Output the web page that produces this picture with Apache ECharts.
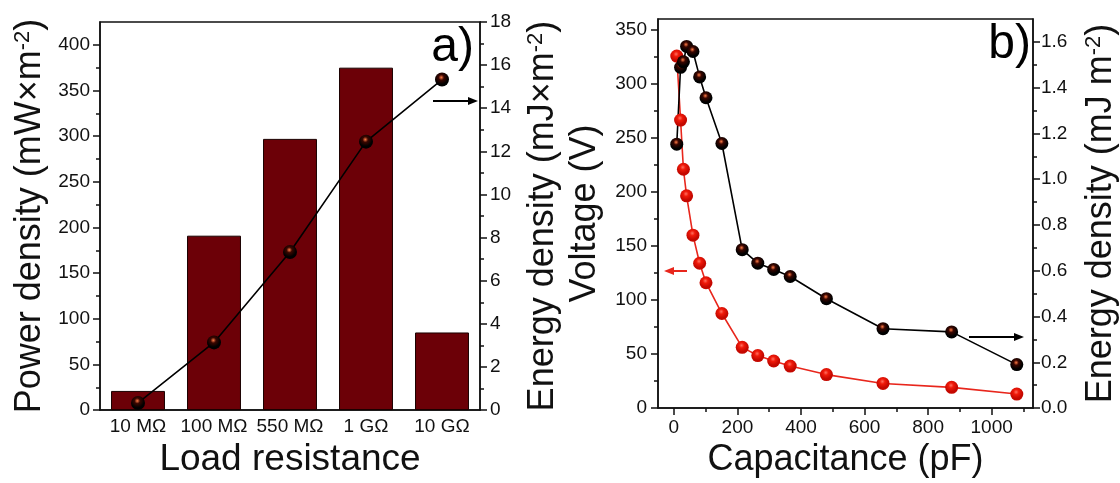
<!DOCTYPE html>
<html>
<head>
<meta charset="utf-8">
<script src="https://cdn.jsdelivr.net/npm/echarts@6/dist/echarts.min.js"></script>
<style>
  html, body { margin: 0; padding: 0; background: #fff; }
  #chart { width: 1120px; height: 483px; }
</style>
</head>
<body>
<div id="chart"></div>
<script>
// panel a) data
var resistances = ['10 MΩ', '100 MΩ', '550 MΩ', '1 GΩ', '10 GΩ'];
var powerDensity = [21, 191, 297, 375, 85];
var energyDensityA = [0.33, 3.14, 7.33, 12.45, 15.33];

// panel b) data
var capacitance = [9, 21, 30, 40, 60, 81, 101, 151, 215, 264, 314, 366, 480, 658, 874, 1079];
var voltage = [325.7, 266.5, 221, 196.4, 160, 134, 116, 87.5, 56.2, 48.6, 43.6, 38.9, 31, 22.8, 19.2, 13];
var energyDensityB = [1.153, 1.489, 1.513, 1.58, 1.558, 1.447, 1.356, 1.156, 0.692, 0.633, 0.606, 0.575, 0.478, 0.347, 0.333, 0.19];

// tick values
var powerTicks = [0, 50, 100, 150, 200, 250, 300, 350, 400];
var powerMinor = [25, 75, 125, 175, 225, 275, 325, 375];
var energyATicks = [0, 2, 4, 6, 8, 10, 12, 14, 16, 18];
var energyAMinor = [1, 3, 5, 7, 9, 11, 13, 15, 17];
var capTicks = [0, 200, 400, 600, 800, 1000];
var capMinor = [100, 300, 500, 700, 900, 1100];
var voltTicks = [0, 50, 100, 150, 200, 250, 300, 350];
var voltMinor = [25, 75, 125, 175, 225, 275, 325];
var energyBTicks = [0, 0.2, 0.4, 0.6, 0.8, 1.0, 1.2, 1.4, 1.6];
var energyBMinor = [0.1, 0.3, 0.5, 0.7, 0.9, 1.1, 1.3, 1.5];

var FONT = 'Liberation Sans';
var INK = '#111';

var chartDom = document.getElementById('chart');
var myChart = echarts.init(chartDom);

function ball(c1, c2, c3) {
  return new echarts.graphic.RadialGradient(0.45, 0.35, 0.65, [
    { offset: 0, color: c1 },
    { offset: 0.3, color: c2 },
    { offset: 0.75, color: c3 }
  ]);
}

function richName(main) {
  return '{t|' + main + '}{s|-2}{t|)}';
}
var nameStyle = {
  fontSize: 36, fontFamily: FONT, color: INK,
  rich: {
    t: { fontSize: 36, fontFamily: FONT, color: INK },
    s: { fontSize: 22, fontFamily: FONT, color: INK, verticalAlign: 'top' }
  }
};

function plain(v) { return String(v); }
function oneDecimal(v) { return v.toFixed(1); }

function majorAxis(opts) {
  var base = {
    type: 'value',
    splitLine: { show: false },
    axisLine: { show: true, onZero: false, lineStyle: { color: INK, width: 1.5 } },
    axisTick: { show: true, length: 7, customValues: opts.ticks, lineStyle: { color: INK, width: 1.5 } },
    axisLabel: { customValues: opts.ticks, fontSize: 19, fontFamily: FONT, color: INK,
      margin: opts.margin, formatter: opts.fmt || plain }
  };
  return Object.assign(base, opts.extra);
}

function minorAxis(opts) {
  return Object.assign({
    type: 'value',
    splitLine: { show: false },
    axisLine: { show: false, onZero: false },
    axisLabel: { show: false },
    axisTick: { show: true, length: 4, customValues: opts.ticks, lineStyle: { color: INK, width: 1.5 } }
  }, opts.extra);
}

function arrow(x1, x2, y, color) {
  var dir = x2 > x1 ? 1 : -1;
  return {
    type: 'group',
    children: [
      { type: 'line', shape: { x1: x1, y1: y, x2: x2 - dir * 6, y2: y }, style: { stroke: color, lineWidth: 2 } },
      { type: 'polygon', shape: { points: [[x2, y], [x2 - dir * 10, y - 4], [x2 - dir * 10, y + 4]] }, style: { fill: color } }
    ]
  };
}

var option = {
  animation: false,
  textStyle: { fontFamily: FONT },
  grid: [
    { left: 100, top: 22, width: 380, height: 396, show: true, borderColor: INK, borderWidth: 1.5 },
    { left: 658, top: 19, width: 378, height: 395, show: true, borderColor: INK, borderWidth: 1.5 }
  ],
  xAxis: [
    {
      type: 'category', gridIndex: 0, data: resistances,
      axisLine: { lineStyle: { color: INK, width: 1.5 } },
      axisTick: { show: false },
      axisLabel: { interval: 0, fontSize: 19, fontFamily: FONT, color: INK, margin: 7 },
      name: 'Load resistance', nameLocation: 'middle', nameGap: 24,
      nameTextStyle: { fontSize: 37, fontFamily: FONT, color: INK }
    },
    majorAxis({ ticks: capTicks, margin: 10, extra: {
      gridIndex: 1, min: -50, max: 1130, position: 'bottom',
      name: 'Capacitance (pF)', nameLocation: 'middle', nameGap: 32,
      nameTextStyle: { fontSize: 36, fontFamily: FONT, color: INK }
    } }),
    minorAxis({ ticks: capMinor, extra: { gridIndex: 1, min: -50, max: 1130, position: 'bottom' } })
  ],
  yAxis: [
    majorAxis({ ticks: powerTicks, margin: 10, extra: {
      gridIndex: 0, min: 0, max: 425, position: 'left',
      name: richName('Power density (mW×m'), nameLocation: 'middle', nameGap: 52, nameRotate: 90,
      nameTextStyle: nameStyle
    } }),
    minorAxis({ ticks: powerMinor, extra: { gridIndex: 0, min: 0, max: 425, position: 'left' } }),
    majorAxis({ ticks: energyATicks, margin: 10, extra: {
      gridIndex: 0, min: 0, max: 18, position: 'right',
      name: richName('Energy density (mJ×m'), nameLocation: 'middle', nameGap: 45, nameRotate: 90,
      nameTextStyle: nameStyle
    } }),
    minorAxis({ ticks: energyAMinor, extra: { gridIndex: 0, min: 0, max: 18, position: 'right' } }),
    majorAxis({ ticks: voltTicks, margin: 11, extra: {
      gridIndex: 1, min: 0, max: 360, position: 'left',
      name: 'Voltage (V)', nameLocation: 'middle', nameGap: 55, nameRotate: 90,
      nameTextStyle: { fontSize: 36, fontFamily: FONT, color: INK }
    } }),
    minorAxis({ ticks: voltMinor, extra: { gridIndex: 1, min: 0, max: 360, position: 'left' } }),
    majorAxis({ ticks: energyBTicks, margin: 8, fmt: oneDecimal, extra: {
      gridIndex: 1, min: 0, max: 1.7, position: 'right',
      name: richName('Energy density (mJ m'), nameLocation: 'middle', nameGap: 50, nameRotate: 90,
      nameTextStyle: nameStyle
    } }),
    minorAxis({ ticks: energyBMinor, extra: { gridIndex: 1, min: 0, max: 1.7, position: 'right' } })
  ],
  series: [
    {
      type: 'bar', xAxisIndex: 0, yAxisIndex: 0,
      data: powerDensity, barWidth: '71%',
      itemStyle: { color: '#6c0007', borderColor: '#1a0000', borderWidth: 1 }
    },
    {
      type: 'line', xAxisIndex: 0, yAxisIndex: 2,
      data: energyDensityA,
      symbol: 'circle', symbolSize: 14,
      lineStyle: { color: '#000', width: 1.6 },
      itemStyle: { color: ball('#ff7a45', '#3a0600', '#000') }
    },
    {
      type: 'line', xAxisIndex: 1, yAxisIndex: 4,
      data: capacitance.map(function (c, i) { return [c, voltage[i]]; }),
      symbol: 'circle', symbolSize: 13,
      lineStyle: { color: '#e8261c', width: 1.6 },
      itemStyle: { color: ball('#ff7060', '#f01a0a', '#c40800') }
    },
    {
      type: 'line', xAxisIndex: 1, yAxisIndex: 6,
      data: capacitance.map(function (c, i) { return [c, energyDensityB[i]]; }),
      symbol: 'circle', symbolSize: 13,
      lineStyle: { color: '#000', width: 1.6 },
      itemStyle: { color: ball('#ff7a45', '#3a0600', '#000') }
    }
  ],
  graphic: [
    { type: 'text', x: 474, y: 48, style: { text: 'a)', fontSize: 48, fontFamily: FONT, fill: '#000', align: 'right', verticalAlign: 'middle' } },
    { type: 'text', x: 1031, y: 45, style: { text: 'b)', fontSize: 48, fontFamily: FONT, fill: '#000', align: 'right', verticalAlign: 'middle' } },
    arrow(433, 478, 101, '#000'),
    arrow(969, 1024, 337, '#000'),
    arrow(687, 664, 271, '#e8261c')
  ]
};

option && myChart.setOption(option);
</script>
</body>
</html>
